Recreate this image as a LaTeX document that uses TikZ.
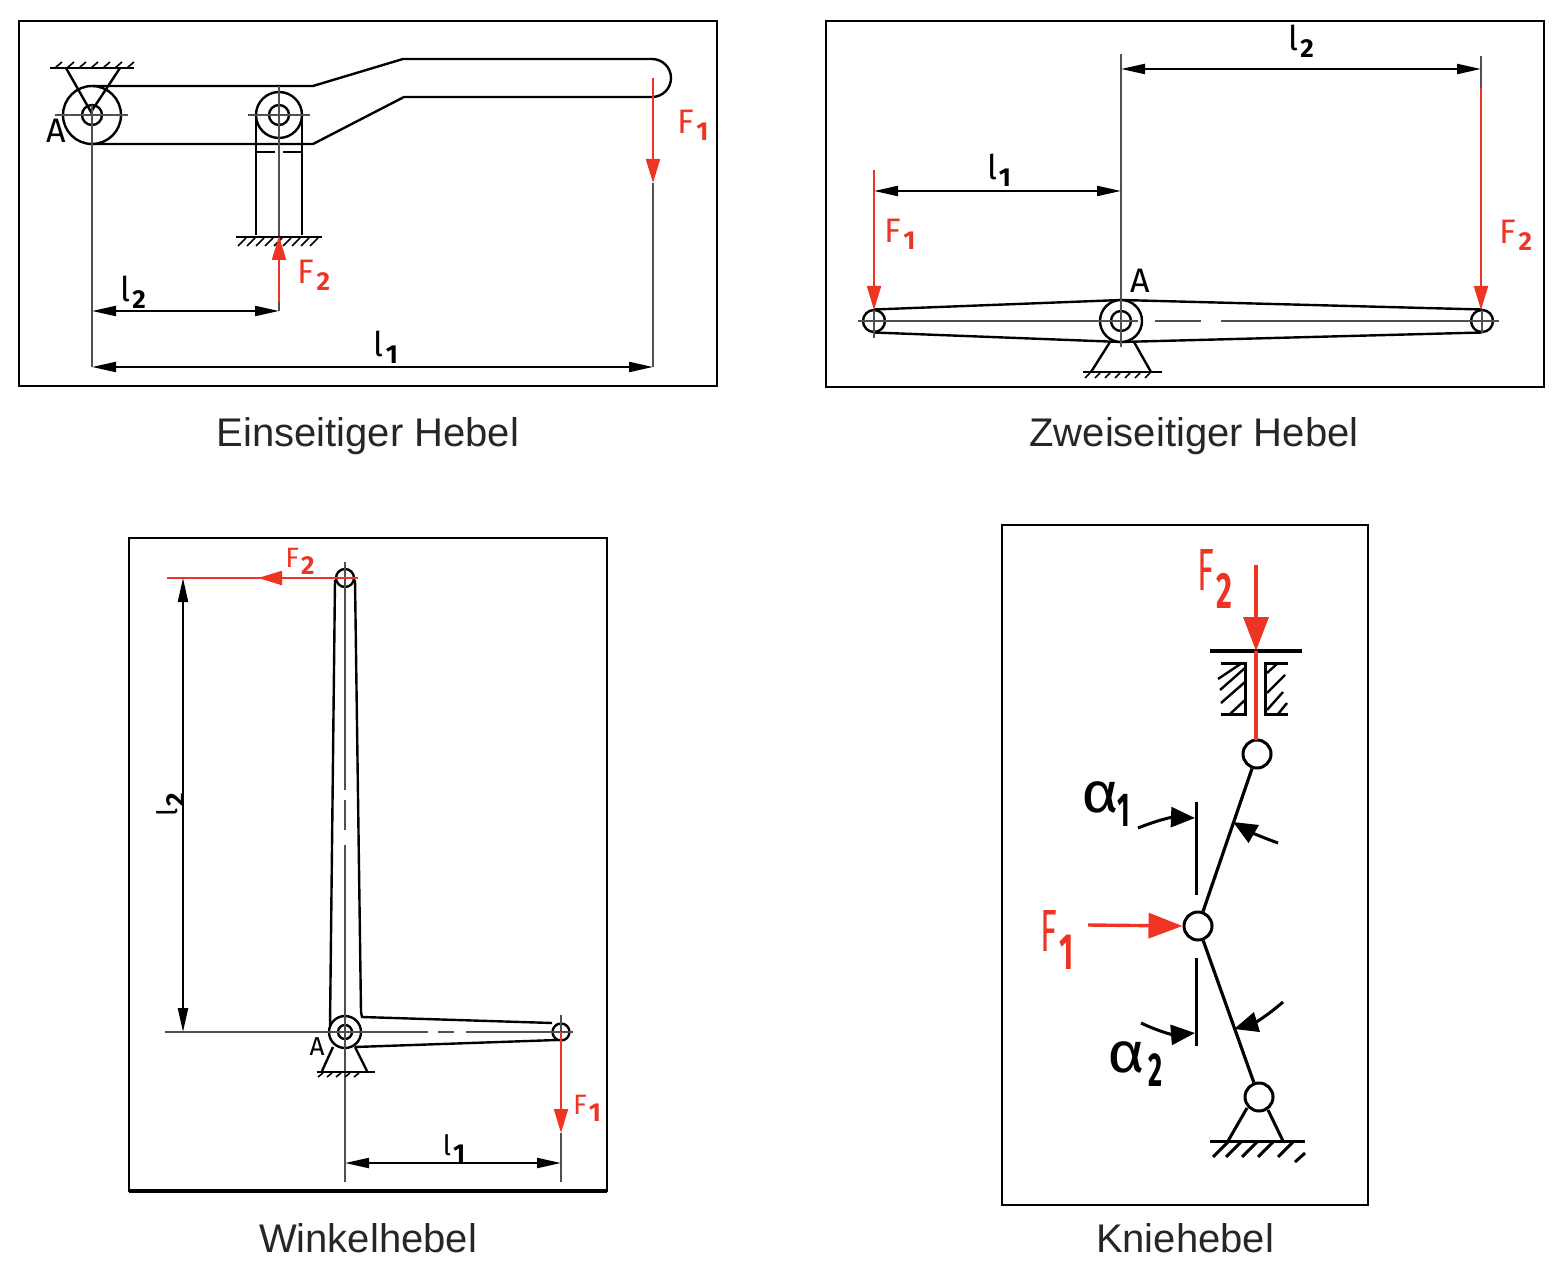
\documentclass[tikz,border=0pt]{standalone}
\usepackage{fontspec}
\usepackage{graphicx}
\setmainfont{Liberation Sans}
\newfontfamily\labfont{Fira Sans}
\usepackage{xcolor}
\usepackage{tikz}
\usetikzlibrary{positioning,arrows.meta}
\definecolor{forcered}{HTML}{EE3524}
\definecolor{axisgray}{HTML}{505050}
\newcommand{\lab}[2]{{\labfont #1\kern1pt\raisebox{-3.5pt}{\fontsize{13}{13}\selectfont\bfseries #2}}}
\newcommand{\tallab}[2]{{\labfont\scalebox{1}[1.75]{#1}\kern1pt\raisebox{-9pt}{\scalebox{0.9}[1.5]{\bfseries #2}}}}
\newcommand{\anglab}[2]{{\labfont\scalebox{1.45}[1.3]{α}\kern#2\raisebox{-7pt}{\scalebox{0.8}[1.4]{\fontsize{17}{17}\selectfont\bfseries #1}}}}
\tikzstyle{panel} = [draw, line width=1.1pt]
\tikzstyle{part} = [line width=1.2pt]
\tikzstyle{thinpart} = [line width=0.8pt]
\tikzstyle{axis} = [line width=0.6pt, draw=axisgray]
\tikzstyle{pin} = [draw, circle, inner sep=0pt, line width=1.2pt]
\tikzstyle{dim} = [line width=1.1pt, {Triangle[length=12pt,width=5pt]}-{Triangle[length=12pt,width=5pt]}]
\tikzstyle{force} = [draw=forcered, line width=1pt, -{Triangle[length=12pt,width=7pt,fill=forcered]}]
\tikzstyle{bigforce} = [draw=forcered, line width=1.7pt, -{Triangle[length=17pt,width=12.5pt,fill=forcered]}]
\tikzstyle{angle} = [line width=1.5pt, -{Triangle[length=12pt,width=10pt]}]
\tikzstyle{flab} = [text=forcered, inner sep=0pt, font=\fontsize{17}{17}\selectfont]
\tikzstyle{dlab} = [text=black, inner sep=0pt, font=\fontsize{17}{17}\selectfont]
\tikzstyle{caption} = [inner sep=0pt, font=\fontsize{20}{24}\selectfont, text=black!85]

\begin{document}
\begin{tikzpicture}[x=0.5pt,y=-0.5pt]
	\useasboundingbox (0,0) rectangle (1567,1278);

	% einseitig
	\draw[panel] (19,21) rectangle (717,386);
	\draw[part] (92,86) -- (313,86) -- (403,59) -- (652,59) arc[start angle=90,end angle=-90,radius=9.5pt] -- (404,97) -- (313,144) -- (92,144);
	\node[pin, minimum size=29pt] (a1) at (92,115) {};
	\node[pin, minimum size=10pt] (a1i) at (92,115) {};
	\node[pin, minimum size=23pt] (r1) at (279,115) {};
	\node[pin, minimum size=10pt] (r1i) at (279,115) {};
	\draw[part] (66,68) -- (91,112) -- (120,68);
	\draw[part] (50,68) -- (134,68);
	\foreach \x in {55,67,...,127} \draw[thinpart] (\x,68) -- (\x+7,62);
	\draw[axis] (55,115) -- (128,115);
	\draw[axis] (92,105) -- (92,367);
	\draw[part] (256,115) -- (256,235);
	\draw[part] (302,115) -- (302,235);
	\draw[part] (256,152) -- (275,152);
	\draw[part] (283,152) -- (302,152);
	\draw[axis] (248,115) -- (310,115);
	\draw[axis] (279,86) -- (279,236);
	\draw[part] (236,237) -- (322,237);
	\foreach \x in {238,247,...,311} \draw[thinpart] (\x,246) -- (\x+8,238);
	\draw[force] (279,302) -- (279,236);
	\draw[axis] (279,302) -- (279,311);
	\draw[dim] (92,311) -- (279,311);
	\draw[dim] (92,367) -- (653,367);
	\draw[force] (653,78) -- (653,183);
	\draw[axis] (653,183) -- (653,367);
	\node[flab] (f1a) at (693,125) {\lab{F}{1}};
	\node[flab] (f2a) at (314,275) {\lab{F}{2}};
	\node[dlab] (l1a) at (386,347) {\lab{l}{1}};
	\node[dlab] (l2a) at (133,292) {\lab{l}{2}};
	\node[dlab] (aa) at (56,131) {\labfont A};

	% zweiseitig
	\draw[panel] (826,21) rectangle (1544,387);
	\draw[part] (874,309.5) -- (1121,300) -- (1482,309.5);
	\draw[part] (874,332.5) -- (1121,342) -- (1482,332.5);
	\node[pin, minimum size=21pt, fill=white] (a2) at (1121,321) {};
	\node[pin, minimum size=10pt] (a2i) at (1121,321) {};
	\node[pin, minimum size=11pt] (p2l) at (874,321) {};
	\node[pin, minimum size=11pt] (p2r) at (1482,321) {};
	\draw[axis] (858,321) -- (1138,321);
	\draw[axis] (1155,321) -- (1201,321);
	\draw[axis] (1221,321) -- (1499,321);
	\draw[axis] (1121,54) -- (1121,347);
	\draw[axis] (1481,56) -- (1481,88);
	\draw[axis] (874,310) -- (874,338);
	\draw[axis] (1482,310) -- (1482,333);
	\draw[force] (874,170) -- (874,310);
	\draw[force] (1481,88) -- (1481,310);
	\draw[dim] (1121,69) -- (1481,69);
	\draw[dim] (874,191) -- (1121,191);
	\draw[part] (1110,342) -- (1091,372);
	\draw[part] (1134,342) -- (1151,372);
	\draw[part] (1083,372) -- (1162,372);
	\foreach \x in {1085,1095,...,1150} \draw[thinpart] (\x,378) -- (\x+5,373);
	\node[flab] (f1b) at (900,234) {\lab{F}{1}};
	\node[flab] (f2b) at (1516,235) {\lab{F}{2}};
	\node[dlab] (l1b) at (999,170) {\lab{l}{1}};
	\node[dlab] (l2b) at (1301,41) {\lab{l}{2}};
	\node[dlab] (ab) at (1140,281) {\labfont A};

	% winkel
	\draw[panel] (129,538) rectangle (607,1191);
	\draw[line width=1.6pt] (129,1191) -- (607,1191);
	\draw[part] (335,580) -- (330,1026);
	\draw[part] (355,580) -- (361,1012) -- (362,1017) -- (552,1023);
	\draw[part] (355,1047) -- (557,1040);
	\node[pin, minimum size=16pt, fill=white] (a3) at (345,1032) {};
	\node[pin, minimum size=7pt] (a3i) at (345,1032) {};
	\node[pin, minimum size=9pt] (p3t) at (345,578) {};
	\node[pin, minimum size=8.5pt] (p3r) at (561,1032) {};
	\draw[axis] (165,1032) -- (428,1032);
	\draw[axis] (438,1032) -- (454,1032);
	\draw[axis] (466,1032) -- (573,1032);
	\draw[axis] (345,562) -- (345,790);
	\draw[axis] (345,800) -- (345,830);
	\draw[axis] (345,845) -- (345,1182);
	\draw[draw=forcered, line width=0.6pt] (167,578) -- (358,578);
	\draw[force] (345,578) -- (258,578);
	\draw[dim] (183,578) -- (183,1032);
	\draw[axis] (561,1015) -- (561,1032);
	\draw[force] (561,1032) -- (561,1133);
	\draw[axis] (561,1133) -- (561,1182);
	\draw[dim] (345,1163) -- (561,1163);
	\draw[part] (333,1047) -- (322,1071);
	\draw[part] (355,1047) -- (367,1071);
	\draw[part] (317,1072) -- (375,1072);
	\foreach \x in {318,327,...,362} \draw[thinpart] (\x,1077) -- (\x+5,1073);
	\node[flab, font=\fontsize{14}{14}\selectfont] (f2c) at (300,561) {\lab{F}{2}};
	\node[flab, font=\fontsize{14}{14}\selectfont] (f1c) at (587,1108) {\lab{F}{1}};
	\node[dlab, font=\fontsize{14}{14}\selectfont, rotate=90] (l2c) at (170,805) {\lab{l}{2}};
	\node[dlab, font=\fontsize{14}{14}\selectfont] (l1c) at (454,1148) {\lab{l}{1}};
	\node[dlab, font=\fontsize{13}{13}\selectfont] (ac) at (317,1047) {\labfont A};

	% knie
	\draw[panel] (1002,525) rectangle (1368,1205);
	\node[pin, minimum size=14pt, line width=1.5pt] (k1) at (1257,754) {};
	\node[pin, minimum size=14pt, line width=1.5pt] (k2) at (1198,926) {};
	\node[pin, minimum size=14pt, line width=1.5pt] (k3) at (1259,1097) {};
	\draw[line width=1.6pt] (k1) -- (k2);
	\draw[line width=1.6pt] (k2) -- (k3);
	\draw[line width=1.6pt] (1210,651) -- (1302,651);
	\draw[draw=forcered, line width=1.7pt] (1256,651) -- (1256,740);
	\draw[bigforce] (1256,565) -- (1256,651);
	\draw[line width=1.5pt] (1221,663) -- (1245,663) -- (1245,714) -- (1221,714);
	\draw[line width=1.5pt] (1288,663) -- (1265,663) -- (1265,714) -- (1288,714);
	\draw[part] (1218,679) -- (1242,663);
	\draw[part] (1220,690) -- (1245,668);
	\draw[part] (1221,703) -- (1245,682);
	\draw[part] (1230,714) -- (1245,700);
	\draw[part] (1267,673) -- (1278,663);
	\draw[part] (1267,693) -- (1285,675);
	\draw[part] (1267,710) -- (1283,692);
	\draw[part] (1278,714) -- (1287,703);
	\draw[line width=1.5pt] (1196,802) -- (1196,895);
	\draw[line width=1.5pt] (1196,958) -- (1196,1046);
	\draw[angle] (1138,828) to[bend left=12] (1195,818);
	\draw[angle] (1278,843) to[bend left=5] (1233,822);
	\draw[angle] (1141,1023) to[bend right=15] (1195,1033);
	\draw[angle] (1283,1002) to[bend left=12] (1234,1029);
	\draw[bigforce] (1088,925) -- (k2.west);
	\draw[line width=1.5pt] (1247,1108) -- (1228,1141);
	\draw[line width=1.5pt] (1268,1110) -- (1283,1141);
	\draw[line width=1.5pt] (1210,1141) -- (1305,1141);
	\foreach \x in {1213,1226,1242,1258,1278} \draw[line width=1.5pt] (\x,1157) -- (\x+15,1142);
	\draw[line width=1.5pt] (1295,1162) -- (1305,1153);
	\node[flab] (f2d) at (1215,579) {\tallab{F}{2}};
	\node[flab] (f1d) at (1057,940) {\tallab{F}{1}};
	\node[dlab, font=\fontsize{22}{22}\selectfont] (a1d) at (1106,804) {\anglab{1}{-1pt}};
	\node[dlab, font=\fontsize{22}{22}\selectfont] (a2d) at (1135,1064) {\anglab{2}{2pt}};

	\node[caption] (c1) at (368,436) {Einseitiger Hebel};
	\node[caption] (c2) at (1194,436) {Zweiseitiger Hebel};
	\node[caption] (c3) at (368,1238) {Winkelhebel};
	\node[caption] (c4) at (1185,1238) {Kniehebel};
\end{tikzpicture}
\end{document}
